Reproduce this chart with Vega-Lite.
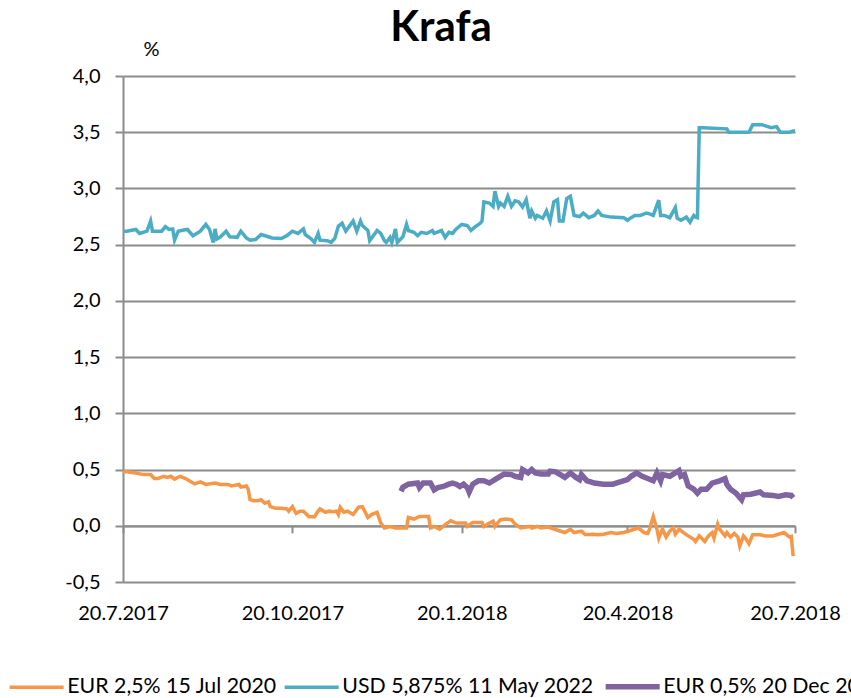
{
"$schema":"https://vega.github.io/schema/vega-lite/v6.json",
"width":672,"height":506,"autosize":"none",
"padding":{"left":123,"top":76,"right":56,"bottom":116},
"background":"white",
"config":{"view":{"stroke":null},"font":"Lato"},
"title":{"text":"Krafa","font":"Lato","fontSize":42,"fontWeight":"bold","color":"#000","anchor":"middle","frame":"group","dx":-18,"dy":33,"offset":22},
"datasets":{
"eur2020":[
{"d":"2017-07-20","v":0.48},{"d":"2017-07-22","v":0.48},{"d":"2017-07-27","v":0.47},{"d":"2017-07-31","v":0.455},{"d":"2017-08-04","v":0.455},{"d":"2017-08-06","v":0.42},{"d":"2017-08-08","v":0.42},{"d":"2017-08-11","v":0.44},{"d":"2017-08-13","v":0.43},{"d":"2017-08-15","v":0.44},{"d":"2017-08-17","v":0.415},{"d":"2017-08-20","v":0.44},{"d":"2017-08-23","v":0.42},{"d":"2017-08-25","v":0.40},{"d":"2017-08-28","v":0.372},{"d":"2017-08-31","v":0.39},{"d":"2017-09-03","v":0.368},{"d":"2017-09-08","v":0.38},{"d":"2017-09-11","v":0.368},{"d":"2017-09-15","v":0.368},{"d":"2017-09-17","v":0.354},{"d":"2017-09-21","v":0.368},{"d":"2017-09-22","v":0.345},{"d":"2017-09-25","v":0.354},{"d":"2017-09-26","v":0.325},{"d":"2017-09-27","v":0.232},{"d":"2017-09-29","v":0.223},{"d":"2017-10-01","v":0.223},{"d":"2017-10-03","v":0.232},{"d":"2017-10-05","v":0.20},{"d":"2017-10-07","v":0.214},{"d":"2017-10-08","v":0.17},{"d":"2017-10-11","v":0.155},{"d":"2017-10-14","v":0.155},{"d":"2017-10-17","v":0.15},{"d":"2017-10-18","v":0.13},{"d":"2017-10-20","v":0.17},{"d":"2017-10-22","v":0.11},{"d":"2017-10-24","v":0.13},{"d":"2017-10-26","v":0.13},{"d":"2017-10-29","v":0.08},{"d":"2017-11-01","v":0.08},{"d":"2017-11-03","v":0.13},{"d":"2017-11-04","v":0.15},{"d":"2017-11-07","v":0.12},{"d":"2017-11-09","v":0.13},{"d":"2017-11-11","v":0.125},{"d":"2017-11-13","v":0.13},{"d":"2017-11-14","v":0.10},{"d":"2017-11-15","v":0.165},{"d":"2017-11-17","v":0.12},{"d":"2017-11-19","v":0.13},{"d":"2017-11-22","v":0.10},{"d":"2017-11-25","v":0.165},{"d":"2017-11-27","v":0.17},{"d":"2017-11-28","v":0.14},{"d":"2017-11-30","v":0.074},{"d":"2017-12-02","v":0.10},{"d":"2017-12-05","v":0.12},{"d":"2017-12-07","v":0.024},{"d":"2017-12-09","v":-0.02},{"d":"2017-12-12","v":-0.006},{"d":"2017-12-15","v":-0.02},{"d":"2017-12-21","v":-0.02},{"d":"2017-12-22","v":0.074},{"d":"2017-12-25","v":0.06},{"d":"2017-12-28","v":0.083},{"d":"2018-01-02","v":0.083},{"d":"2018-01-03","v":-0.02},{"d":"2018-01-05","v":-0.006},{"d":"2018-01-08","v":-0.03},{"d":"2018-01-11","v":0.01},{"d":"2018-01-14","v":0.045},{"d":"2018-01-17","v":0.024},{"d":"2018-01-22","v":0.024},{"d":"2018-01-23","v":-0.006},{"d":"2018-01-26","v":0.03},{"d":"2018-01-31","v":0.03},{"d":"2018-02-01","v":-0.006},{"d":"2018-02-04","v":0.024},{"d":"2018-02-06","v":0.04},{"d":"2018-02-07","v":-0.006},{"d":"2018-02-10","v":0.054},{"d":"2018-02-13","v":0.06},{"d":"2018-02-16","v":0.054},{"d":"2018-02-18","v":0.015},{"d":"2018-02-21","v":-0.02},{"d":"2018-02-26","v":-0.006},{"d":"2018-02-27","v":-0.02},{"d":"2018-03-02","v":-0.006},{"d":"2018-03-04","v":-0.02},{"d":"2018-03-08","v":-0.012},{"d":"2018-03-13","v":-0.04},{"d":"2018-03-17","v":-0.06},{"d":"2018-03-20","v":-0.03},{"d":"2018-03-22","v":-0.06},{"d":"2018-03-26","v":-0.048},{"d":"2018-03-28","v":-0.078},{"d":"2018-03-31","v":-0.078},{"d":"2018-04-01","v":-0.075},{"d":"2018-04-04","v":-0.08},{"d":"2018-04-07","v":-0.075},{"d":"2018-04-11","v":-0.06},{"d":"2018-04-14","v":-0.068},{"d":"2018-04-18","v":-0.06},{"d":"2018-04-22","v":-0.04},{"d":"2018-04-26","v":-0.02},{"d":"2018-04-29","v":-0.06},{"d":"2018-05-01","v":-0.068},{"d":"2018-05-02","v":-0.03},{"d":"2018-05-04","v":0.083},{"d":"2018-05-06","v":-0.03},{"d":"2018-05-07","v":-0.11},{"d":"2018-05-09","v":-0.03},{"d":"2018-05-11","v":-0.10},{"d":"2018-05-13","v":-0.048},{"d":"2018-05-15","v":-0.02},{"d":"2018-05-16","v":-0.075},{"d":"2018-05-18","v":-0.03},{"d":"2018-05-21","v":-0.068},{"d":"2018-05-23","v":-0.09},{"d":"2018-05-26","v":-0.12},{"d":"2018-05-27","v":-0.14},{"d":"2018-05-29","v":-0.09},{"d":"2018-06-01","v":-0.14},{"d":"2018-06-03","v":-0.09},{"d":"2018-06-05","v":-0.06},{"d":"2018-06-06","v":-0.11},{"d":"2018-06-08","v":0.015},{"d":"2018-06-09","v":-0.03},{"d":"2018-06-12","v":-0.09},{"d":"2018-06-13","v":-0.06},{"d":"2018-06-15","v":-0.10},{"d":"2018-06-17","v":-0.068},{"d":"2018-06-19","v":-0.10},{"d":"2018-06-20","v":-0.18},{"d":"2018-06-22","v":-0.09},{"d":"2018-06-23","v":-0.11},{"d":"2018-06-25","v":-0.16},{"d":"2018-06-27","v":-0.08},{"d":"2018-07-01","v":-0.08},{"d":"2018-07-04","v":-0.09},{"d":"2018-07-08","v":-0.09},{"d":"2018-07-11","v":-0.075},{"d":"2018-07-14","v":-0.06},{"d":"2018-07-17","v":-0.10},{"d":"2018-07-18","v":-0.095},{"d":"2018-07-19","v":-0.27}
],
"usd2022":[
{"d":"2017-07-20","v":2.62},{"d":"2017-07-22","v":2.62},{"d":"2017-07-27","v":2.635},{"d":"2017-07-29","v":2.60},{"d":"2017-08-02","v":2.62},{"d":"2017-08-04","v":2.71},{"d":"2017-08-05","v":2.62},{"d":"2017-08-10","v":2.62},{"d":"2017-08-12","v":2.66},{"d":"2017-08-14","v":2.635},{"d":"2017-08-16","v":2.64},{"d":"2017-08-17","v":2.54},{"d":"2017-08-19","v":2.62},{"d":"2017-08-22","v":2.63},{"d":"2017-08-24","v":2.635},{"d":"2017-08-27","v":2.58},{"d":"2017-08-31","v":2.62},{"d":"2017-09-03","v":2.68},{"d":"2017-09-05","v":2.635},{"d":"2017-09-07","v":2.52},{"d":"2017-09-08","v":2.64},{"d":"2017-09-09","v":2.55},{"d":"2017-09-11","v":2.57},{"d":"2017-09-14","v":2.62},{"d":"2017-09-16","v":2.57},{"d":"2017-09-20","v":2.565},{"d":"2017-09-22","v":2.62},{"d":"2017-09-25","v":2.56},{"d":"2017-09-27","v":2.54},{"d":"2017-09-30","v":2.545},{"d":"2017-10-03","v":2.59},{"d":"2017-10-07","v":2.57},{"d":"2017-10-09","v":2.56},{"d":"2017-10-14","v":2.555},{"d":"2017-10-17","v":2.58},{"d":"2017-10-20","v":2.62},{"d":"2017-10-23","v":2.60},{"d":"2017-10-26","v":2.64},{"d":"2017-10-27","v":2.59},{"d":"2017-10-30","v":2.555},{"d":"2017-11-01","v":2.52},{"d":"2017-11-03","v":2.60},{"d":"2017-11-04","v":2.54},{"d":"2017-11-08","v":2.535},{"d":"2017-11-10","v":2.52},{"d":"2017-11-12","v":2.555},{"d":"2017-11-14","v":2.665},{"d":"2017-11-16","v":2.69},{"d":"2017-11-18","v":2.62},{"d":"2017-11-20","v":2.665},{"d":"2017-11-22","v":2.71},{"d":"2017-11-24","v":2.62},{"d":"2017-11-26","v":2.71},{"d":"2017-11-27","v":2.67},{"d":"2017-11-30","v":2.626},{"d":"2017-12-01","v":2.536},{"d":"2017-12-03","v":2.58},{"d":"2017-12-05","v":2.626},{"d":"2017-12-07","v":2.60},{"d":"2017-12-09","v":2.536},{"d":"2017-12-10","v":2.52},{"d":"2017-12-12","v":2.565},{"d":"2017-12-13","v":2.52},{"d":"2017-12-15","v":2.64},{"d":"2017-12-16","v":2.52},{"d":"2017-12-19","v":2.57},{"d":"2017-12-21","v":2.68},{"d":"2017-12-22","v":2.626},{"d":"2017-12-25","v":2.61},{"d":"2017-12-27","v":2.58},{"d":"2017-12-29","v":2.61},{"d":"2018-01-01","v":2.60},{"d":"2018-01-04","v":2.626},{"d":"2018-01-05","v":2.60},{"d":"2018-01-09","v":2.626},{"d":"2018-01-11","v":2.565},{"d":"2018-01-13","v":2.61},{"d":"2018-01-15","v":2.60},{"d":"2018-01-17","v":2.64},{"d":"2018-01-20","v":2.68},{"d":"2018-01-23","v":2.67},{"d":"2018-01-25","v":2.626},{"d":"2018-01-27","v":2.655},{"d":"2018-01-30","v":2.69},{"d":"2018-01-31","v":2.71},{"d":"2018-02-01","v":2.88},{"d":"2018-02-04","v":2.87},{"d":"2018-02-06","v":2.84},{"d":"2018-02-07","v":2.976},{"d":"2018-02-09","v":2.84},{"d":"2018-02-10","v":2.87},{"d":"2018-02-12","v":2.84},{"d":"2018-02-14","v":2.93},{"d":"2018-02-16","v":2.84},{"d":"2018-02-18","v":2.89},{"d":"2018-02-20","v":2.88},{"d":"2018-02-22","v":2.835},{"d":"2018-02-24","v":2.90},{"d":"2018-02-26","v":2.735},{"d":"2018-02-27","v":2.80},{"d":"2018-03-01","v":2.735},{"d":"2018-03-02","v":2.76},{"d":"2018-03-05","v":2.735},{"d":"2018-03-07","v":2.80},{"d":"2018-03-09","v":2.71},{"d":"2018-03-11","v":2.88},{"d":"2018-03-13","v":2.90},{"d":"2018-03-14","v":2.71},{"d":"2018-03-16","v":2.71},{"d":"2018-03-18","v":2.91},{"d":"2018-03-20","v":2.93},{"d":"2018-03-22","v":2.76},{"d":"2018-03-25","v":2.75},{"d":"2018-03-27","v":2.78},{"d":"2018-03-30","v":2.74},{"d":"2018-04-02","v":2.76},{"d":"2018-04-04","v":2.80},{"d":"2018-04-06","v":2.76},{"d":"2018-04-11","v":2.745},{"d":"2018-04-18","v":2.74},{"d":"2018-04-20","v":2.717},{"d":"2018-04-22","v":2.74},{"d":"2018-04-24","v":2.76},{"d":"2018-04-27","v":2.76},{"d":"2018-04-30","v":2.78},{"d":"2018-05-01","v":2.78},{"d":"2018-05-04","v":2.76},{"d":"2018-05-07","v":2.896},{"d":"2018-05-08","v":2.76},{"d":"2018-05-10","v":2.76},{"d":"2018-05-13","v":2.74},{"d":"2018-05-16","v":2.83},{"d":"2018-05-17","v":2.735},{"d":"2018-05-19","v":2.717},{"d":"2018-05-22","v":2.745},{"d":"2018-05-24","v":2.70},{"d":"2018-05-26","v":2.76},{"d":"2018-05-27","v":2.745},{"d":"2018-05-28","v":2.74},{"d":"2018-05-29","v":3.54},{"d":"2018-05-31","v":3.54},{"d":"2018-06-13","v":3.53},{"d":"2018-06-14","v":3.50},{"d":"2018-06-25","v":3.50},{"d":"2018-06-27","v":3.567},{"d":"2018-07-02","v":3.567},{"d":"2018-07-07","v":3.54},{"d":"2018-07-10","v":3.55},{"d":"2018-07-12","v":3.50},{"d":"2018-07-17","v":3.50},{"d":"2018-07-19","v":3.51},{"d":"2018-07-20","v":3.51}
],
"eur2021":[
{"d":"2017-12-18","v":0.307},{"d":"2017-12-19","v":0.342},{"d":"2017-12-22","v":0.37},{"d":"2017-12-27","v":0.38},{"d":"2017-12-28","v":0.34},{"d":"2017-12-30","v":0.38},{"d":"2018-01-03","v":0.38},{"d":"2018-01-05","v":0.32},{"d":"2018-01-07","v":0.34},{"d":"2018-01-10","v":0.35},{"d":"2018-01-13","v":0.37},{"d":"2018-01-15","v":0.38},{"d":"2018-01-17","v":0.37},{"d":"2018-01-19","v":0.35},{"d":"2018-01-21","v":0.37},{"d":"2018-01-23","v":0.34},{"d":"2018-01-24","v":0.30},{"d":"2018-01-26","v":0.37},{"d":"2018-01-29","v":0.40},{"d":"2018-02-01","v":0.40},{"d":"2018-02-04","v":0.38},{"d":"2018-02-07","v":0.41},{"d":"2018-02-09","v":0.43},{"d":"2018-02-12","v":0.46},{"d":"2018-02-16","v":0.455},{"d":"2018-02-18","v":0.44},{"d":"2018-02-21","v":0.43},{"d":"2018-02-22","v":0.50},{"d":"2018-02-25","v":0.47},{"d":"2018-02-27","v":0.50},{"d":"2018-03-01","v":0.47},{"d":"2018-03-04","v":0.46},{"d":"2018-03-08","v":0.46},{"d":"2018-03-09","v":0.485},{"d":"2018-03-12","v":0.48},{"d":"2018-03-15","v":0.45},{"d":"2018-03-17","v":0.43},{"d":"2018-03-20","v":0.47},{"d":"2018-03-23","v":0.43},{"d":"2018-03-25","v":0.41},{"d":"2018-03-26","v":0.455},{"d":"2018-03-29","v":0.40},{"d":"2018-03-31","v":0.39},{"d":"2018-04-02","v":0.38},{"d":"2018-04-07","v":0.37},{"d":"2018-04-12","v":0.37},{"d":"2018-04-16","v":0.39},{"d":"2018-04-20","v":0.41},{"d":"2018-04-22","v":0.44},{"d":"2018-04-25","v":0.47},{"d":"2018-04-28","v":0.44},{"d":"2018-05-01","v":0.42},{"d":"2018-05-04","v":0.40},{"d":"2018-05-06","v":0.47},{"d":"2018-05-08","v":0.40},{"d":"2018-05-09","v":0.455},{"d":"2018-05-13","v":0.44},{"d":"2018-05-16","v":0.47},{"d":"2018-05-18","v":0.49},{"d":"2018-05-19","v":0.44},{"d":"2018-05-21","v":0.455},{"d":"2018-05-23","v":0.354},{"d":"2018-05-26","v":0.325},{"d":"2018-05-28","v":0.29},{"d":"2018-05-30","v":0.325},{"d":"2018-06-02","v":0.325},{"d":"2018-06-05","v":0.38},{"d":"2018-06-09","v":0.40},{"d":"2018-06-12","v":0.42},{"d":"2018-06-13","v":0.368},{"d":"2018-06-15","v":0.325},{"d":"2018-06-18","v":0.29},{"d":"2018-06-21","v":0.232},{"d":"2018-06-22","v":0.275},{"d":"2018-06-26","v":0.28},{"d":"2018-07-01","v":0.30},{"d":"2018-07-03","v":0.275},{"d":"2018-07-08","v":0.27},{"d":"2018-07-11","v":0.26},{"d":"2018-07-15","v":0.275},{"d":"2018-07-18","v":0.27},{"d":"2018-07-19","v":0.25}
]
},
"encoding":{
"x":{"field":"d","type":"temporal","scale":{"type":"utc","domain":[{"year":2017,"month":7,"date":20,"utc":true},{"year":2018,"month":7,"date":20,"utc":true}]},
"axis":{"title":null,"values":[{"year":2017,"month":7,"date":20,"utc":true},{"year":2017,"month":10,"date":20,"utc":true},{"year":2018,"month":1,"date":20,"utc":true},{"year":2018,"month":4,"date":20,"utc":true},{"year":2018,"month":7,"date":20,"utc":true}],
"labelExpr":"utcFormat(datum.value, '%-d.%-m.%Y')","offset":-56.2,"grid":false,"domainColor":"#8c8c8c","domainWidth":2,"tickColor":"#8c8c8c","tickWidth":2,"tickSize":7,"labelPadding":71,"labelFontSize":20,"labelFont":"Lato","labelColor":"#000","labelFlush":false,"labelOverlap":false,"labelBound":false}},
"y":{"field":"v","type":"quantitative","scale":{"domain":[-0.5,4],"nice":false,"zero":false},
"axis":{"values":[-0.5,0,0.5,1,1.5,2,2.5,3,3.5,4],"labelExpr":"(datum.value < 0 ? '-' : '') + replace(format(abs(datum.value), '.1f'), '.', ',')","grid":true,"gridColor":"#8c8c8c","gridWidth":2,"domainColor":"#8c8c8c","domainWidth":2,"tickColor":"#8c8c8c","tickWidth":2,"tickSize":8,"labelPadding":15,"labelFontSize":20,"labelFont":"Lato","labelColor":"#000",
"title":"%","titleAngle":0,"titleX":28,"titleY":-21,"titleAlign":"center","titleBaseline":"alphabetic","titleFontWeight":"normal","titleFontSize":20,"titleFont":"Lato","titleColor":"#000"}}
},
"layer":[
{"data":{"name":"eur2020"},"mark":{"type":"line","strokeWidth":3.5},
"encoding":{"color":{"datum":"EUR 2,5% 15 Jul 2020","type":"nominal",
"scale":{"domain":["EUR 2,5% 15 Jul 2020","USD 5,875% 11 May 2022","EUR 0,5% 20 Dec 2021"],"range":["#F79646","#4BACC6","#8064A2"]},
"legend":{"orient":"none","legendX":-97,"legendY":600,"direction":"horizontal","title":null,"symbolType":"stroke","symbolSize":2916,"symbolStrokeWidth":3.5,"labelFontSize":21.3,"labelFont":"Lato","labelColor":"#000","labelLimit":600,"labelOffset":20,"columnPadding":0,
"encode":{"symbols":{"update":{"strokeWidth":{"signal":"datum.value === 'EUR 0,5% 20 Dec 2021' ? 5.5 : 3.5"}}}}}}}},
{"data":{"name":"usd2022"},"mark":{"type":"line","strokeWidth":3.5},
"encoding":{"color":{"datum":"USD 5,875% 11 May 2022","type":"nominal"}}},
{"data":{"name":"eur2021"},"mark":{"type":"line","strokeWidth":5.5},
"encoding":{"color":{"datum":"EUR 0,5% 20 Dec 2021","type":"nominal"}}}
]
}
